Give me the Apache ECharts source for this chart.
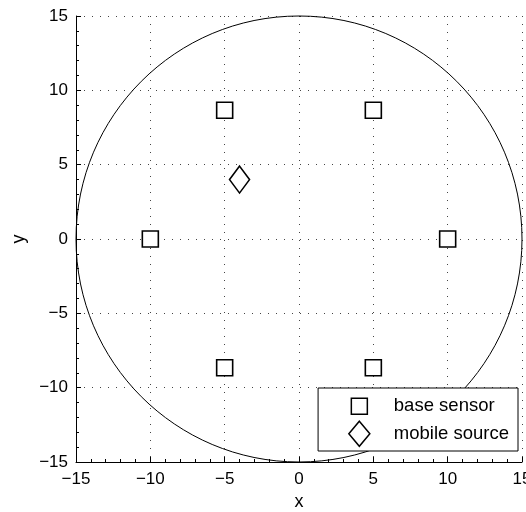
<!DOCTYPE html>
<html>
<head>
<meta charset="utf-8">
<script src="https://cdn.jsdelivr.net/npm/echarts@6/dist/echarts.min.js"></script>
<style>html,body{margin:0;padding:0;background:#fff}#c{width:526px;height:512px}</style>
</head>
<body>
<div id="c"></div>
<script>
const xTicks = [-15, -10, -5, 0, 5, 10, 15];
const yTicks = [-15, -10, -5, 0, 5, 10, 15];
const sensorX = [10, 5, -5, -10, -5, 5];
const sensorY = [0, 8.66, 8.66, 0, -8.66, -8.66];
const sourceX = [-4];
const sourceY = [4];
const circleCenter = [0, 0];
const circleRadius = 15;

const FONT = 'Liberation Sans';
const chart = echarts.init(document.getElementById('c'));

const fmt = v => (v < 0 ? '\u2212' + Math.abs(v) : String(v));
const axisCommon = {
  min: xTicks[0], max: xTicks[xTicks.length - 1], interval: 5,
  axisLine: { show: true, onZero: false, lineStyle: { color: '#000', width: 1 } },
  axisTick: { show: true, inside: true, length: 5, lineStyle: { color: '#000' } },
  minorTick: { show: true, splitNumber: 5, length: 3, lineStyle: { color: '#000' } },
  splitLine: { show: true, lineStyle: { color: '#444', type: [1, 7], width: 1 } },
  nameTextStyle: { color: '#000', fontFamily: FONT, fontSize: 18 }
};

// legend icons: square 16x16 and diamond 21x25 inside a common 21x25 box
const squareIcon = 'path://M0,0L0,0M2.5,4.5L18.5,4.5L18.5,20.5L2.5,20.5Z M21,25L21,25';
const diamondIcon = 'path://M10.5,0L21,12.5L10.5,25L0,12.5Z';

chart.setOption({
  animation: false,
  backgroundColor: '#fff',
  grid: { left: 76, right: 4, top: 16, bottom: 50, outerBoundsMode: 'none', containLabel: false },
  xAxis: Object.assign({}, axisCommon, {
    type: 'value', name: 'x', nameLocation: 'middle', nameGap: 31,
    axisLabel: { color: '#000', fontFamily: FONT, fontSize: 17, margin: 9, formatter: fmt,
      showMinLabel: true, showMaxLabel: true, hideOverlap: false }
  }),
  yAxis: Object.assign({}, axisCommon, {
    min: yTicks[0], max: yTicks[yTicks.length - 1],
    type: 'value', name: 'y', nameLocation: 'middle', nameGap: 48, nameRotate: 90,
    axisLabel: { color: '#000', fontFamily: FONT, fontSize: 17, margin: 8, formatter: fmt,
      showMinLabel: true, showMaxLabel: true, hideOverlap: false }
  }),
  legend: {
    show: true,
    right: 8, bottom: 61,
    orient: 'vertical',
    backgroundColor: '#fff',
    borderColor: '#000', borderWidth: 1,
    borderRadius: 0,
    padding: [5, 9, 4, 30],
    itemGap: 1,
    itemWidth: 21, itemHeight: 25,
    symbolKeepAspect: true,
    textStyle: { color: '#000', fontFamily: FONT, fontSize: 18.5, padding: [2, 0, 0, 19] },
    data: [
      { name: 'base sensor', icon: squareIcon, itemStyle: { color: '#fff', borderColor: '#000', borderWidth: 1.5 } },
      { name: 'mobile source', icon: diamondIcon, itemStyle: { color: '#fff', borderColor: '#000', borderWidth: 1.5 } }
    ]
  },
  series: [
    {
      type: 'custom',
      name: 'circle',
      data: [[circleCenter[0], circleCenter[1], circleRadius]],
      renderItem: function (params, api) {
        const c = api.coord([api.value(0), api.value(1)]);
        const s = api.size([api.value(2), api.value(2)]);
        return {
          type: 'ellipse',
          shape: { cx: c[0], cy: c[1], rx: s[0], ry: s[1] },
          style: { fill: 'none', stroke: '#000', lineWidth: 1 },
          silent: true
        };
      },
      z: 1
    },
    {
      type: 'scatter',
      name: 'base sensor',
      symbol: 'rect',
      symbolSize: 16,
      data: sensorX.map((x, i) => [x, sensorY[i]]),
      itemStyle: { color: '#fff', borderColor: '#000', borderWidth: 1.6, opacity: 1 },
      z: 3
    },
    {
      type: 'scatter',
      name: 'mobile source',
      symbol: 'diamond',
      symbolSize: [20, 27],
      data: sourceX.map((x, i) => [x, sourceY[i]]),
      itemStyle: { color: '#fff', borderColor: '#000', borderWidth: 1.6, opacity: 1 },
      z: 3
    }
  ]
});
</script>
</body>
</html>
